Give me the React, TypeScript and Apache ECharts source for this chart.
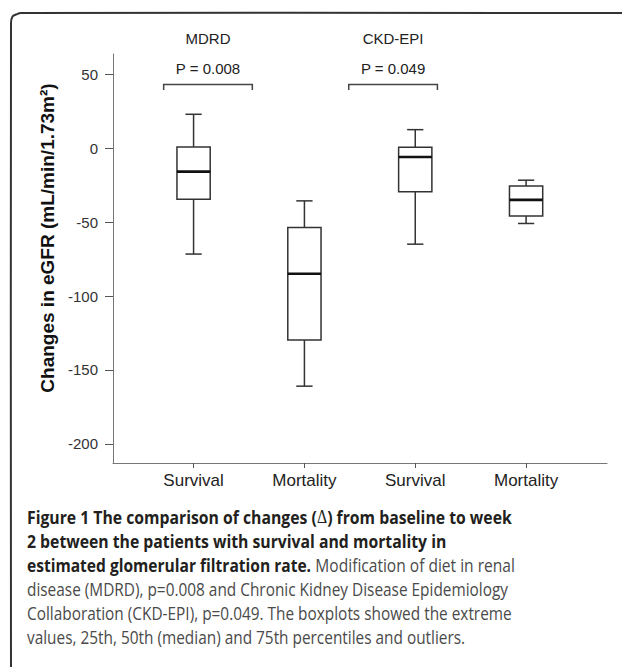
import React, { useEffect, useRef } from "react";
import * as echarts from "echarts";

// ---- data ----
const categories = ["Survival", "Mortality", "Survival", "Mortality"];
const whiskerLow = [-71.6, -161, -64.9, -50.9];
const q1 = [-34.5, -129.8, -29.5, -45.9];
const median = [-15.8, -84.9, -5.9, -34.9];
const q3 = [0.9, -53.6, 0.7, -25.5];
const whiskerHigh = [23, -35.6, 12.6, -21.6];
const yTicks = [-200, -150, -100, -50, 0, 50];
const xTicks = [1, 2, 3, 4];

const groupLabels = ["MDRD", "CKD-EPI"];
const pLabels = ["P = 0.008", "P = 0.049"];
const bracketFrom = [0.73, 2.4];
const bracketTo = [1.53, 3.2];
const bracketTop = 43.2;
const bracketLeg = 39.4;
const pLabelY = 54.3;
const headerY = 74.6;

const yTitle = "Changes in eGFR (mL/min/1.73m\u00B2)";

const captionLines: { t: string; s: string }[][] = [
  [
    { t: "Figure 1 The comparison of changes (", s: "b" },
    { t: "\u0394", s: "d" },
    { t: ") from baseline to week", s: "b" },
  ],
  [{ t: "2 between the patients with survival and mortality in", s: "b" }],
  [
    { t: "estimated glomerular filtration rate.", s: "b" },
    { t: " Modification of diet in renal", s: "r" },
  ],
  [{ t: "disease (MDRD), p=0.008 and Chronic Kidney Disease Epidemiology", s: "r" }],
  [{ t: "Collaboration (CKD-EPI), p=0.049. The boxplots showed the extreme", s: "r" }],
  [{ t: "values, 25th, 50th (median) and 75th percentiles and outliers.", s: "r" }],
];
const captionScale = [0.876, 0.876, 0.865, 0.855, 0.855, 0.855];

const BOX_W = 0.3;
const CAP_W = 0.147;
const AX = "Liberation Sans, Arial, sans-serif";

export default function App() {
  const ref = useRef<HTMLDivElement>(null);

  useEffect(() => {
    document.body.style.margin = "0";
    const chart = echarts.init(ref.current!, undefined, { renderer: "svg" });

    const boxData = categories.map((_, i) => [
      xTicks[i],
      whiskerLow[i],
      q1[i],
      median[i],
      q3[i],
      whiskerHigh[i],
    ]);
    const annData = groupLabels.map((_, i) => [bracketFrom[i], bracketTo[i], i]);

    const stroke = "#333";

    const option: any = {
      animation: false,
      backgroundColor: "#fff",
      grid: { left: 113, right: 15, top: 54, bottom: 204, containLabel: false },
      xAxis: {
        type: "value",
        min: 0.273,
        max: 4.73,
        splitLine: { show: false },
        axisLine: { show: true, onZero: false, lineStyle: { color: "#777", width: 1 } },
        axisTick: { show: true, length: 5, customValues: xTicks, lineStyle: { color: "#555" } },
        axisLabel: {
          customValues: xTicks,
          formatter: (v: number) => categories[Math.round(v) - 1] || "",
          fontSize: 17,
          fontFamily: AX,
          color: "#222",
          margin: 9,
        },
      },
      yAxis: {
        type: "value",
        min: -213,
        max: 63.8,
        splitLine: { show: false },
        axisLine: { show: true, onZero: false, lineStyle: { color: "#777", width: 1 } },
        axisTick: { show: true, length: 8, customValues: yTicks, lineStyle: { color: "#555" } },
        axisLabel: {
          customValues: yTicks,
          fontSize: 15,
          fontFamily: AX,
          color: "#333",
          margin: 15,
        },
      },
      series: [
        {
          type: "custom",
          data: boxData,
          encode: { x: 0, y: [1, 2, 3, 4, 5] },
          clip: false,
          renderItem: (params: any, api: any) => {
            const x = api.value(0);
            const lo = api.coord([x, api.value(1)]);
            const a = api.coord([x, api.value(2)]);
            const m = api.coord([x, api.value(3)]);
            const b = api.coord([x, api.value(4)]);
            const hi = api.coord([x, api.value(5)]);
            const cx = lo[0];
            const hb = api.size([BOX_W, 0])[0] / 2;
            const hc = api.size([CAP_W, 0])[0] / 2;
            const ls = { stroke, lineWidth: 1.5, fill: "none" };
            return {
              type: "group",
              children: [
                { type: "line", shape: { x1: cx, y1: b[1], x2: cx, y2: hi[1] }, style: ls },
                { type: "line", shape: { x1: cx - hc, y1: hi[1], x2: cx + hc, y2: hi[1] }, style: ls },
                { type: "line", shape: { x1: cx, y1: a[1], x2: cx, y2: lo[1] }, style: ls },
                { type: "line", shape: { x1: cx - hc, y1: lo[1], x2: cx + hc, y2: lo[1] }, style: ls },
                {
                  type: "rect",
                  shape: { x: cx - hb, y: b[1], width: 2 * hb, height: a[1] - b[1] },
                  style: { stroke, lineWidth: 1.5, fill: "#fff" },
                },
                {
                  type: "line",
                  shape: { x1: cx - hb, y1: m[1], x2: cx + hb, y2: m[1] },
                  style: { stroke: "#111", lineWidth: 2.6 },
                },
              ],
            };
          },
        },
        {
          type: "custom",
          data: annData,
          encode: { x: [0, 1] },
          clip: false,
          renderItem: (params: any, api: any) => {
            const f = api.value(0);
            const t = api.value(1);
            const i = api.value(2);
            const p1 = api.coord([f, bracketLeg]);
            const p2 = api.coord([f, bracketTop]);
            const p3 = api.coord([t, bracketTop]);
            const p4 = api.coord([t, bracketLeg]);
            const mid = (f + t) / 2;
            const pp = api.coord([mid, pLabelY]);
            const hp = api.coord([mid, headerY]);
            return {
              type: "group",
              children: [
                {
                  type: "polyline",
                  shape: { points: [p1, p2, p3, p4] },
                  style: { stroke: "#444", lineWidth: 1.5, fill: "none" },
                },
                {
                  type: "text",
                  x: pp[0],
                  y: pp[1],
                  style: {
                    text: pLabels[i],
                    fontSize: 15,
                    fontFamily: AX,
                    fill: "#222",
                    align: "center",
                    verticalAlign: "middle",
                  },
                },
                {
                  type: "text",
                  x: hp[0],
                  y: hp[1],
                  style: {
                    text: groupLabels[i],
                    fontSize: 15,
                    fontFamily: AX,
                    fill: "#222",
                    align: "center",
                    verticalAlign: "middle",
                  },
                },
              ],
            };
          },
        },
      ],
      graphic: [
        {
          type: "polyline",
          z: -1,
          shape: {
            points: [
              [11, 700],
              [11, 23],
              [12.5, 16.5],
              [16, 14.5],
              [21, 13],
              [640, 13],
            ],
            smooth: 0.3,
          },
          style: { fill: "none", stroke: "#333", lineWidth: 2 },
        },
        {
          type: "text",
          x: 47,
          y: 238,
          rotation: Math.PI / 2,
          style: {
            text: yTitle,
            fontSize: 19,
            fontWeight: "bold",
            fontFamily: AX,
            fill: "#111",
            align: "center",
            verticalAlign: "middle",
          },
        },
        ...captionLines.map((line, i) => ({
          type: "text",
          x: 27,
          y: 517 + i * 24,
          scaleX: captionScale[i],
          style: {
            text: line.map((seg) => `{${seg.s}|${seg.t}}`).join(""),
            verticalAlign: "middle",
            align: "left",
            rich: {
              b: { fontSize: 18, fontWeight: "bold", fontFamily: "Open Sans", fill: "#231f20" },
              r: { fontSize: 18, fontFamily: "Open Sans", fill: "#4a4a4a" },
              d: { fontSize: 18, fontFamily: "Liberation Serif, serif", fill: "#231f20" },
            },
          },
        })),
      ],
    };

    chart.setOption(option);
    return () => chart.dispose();
  }, []);

  return <div ref={ref} style={{ width: 622, height: 667 }} />;
}
